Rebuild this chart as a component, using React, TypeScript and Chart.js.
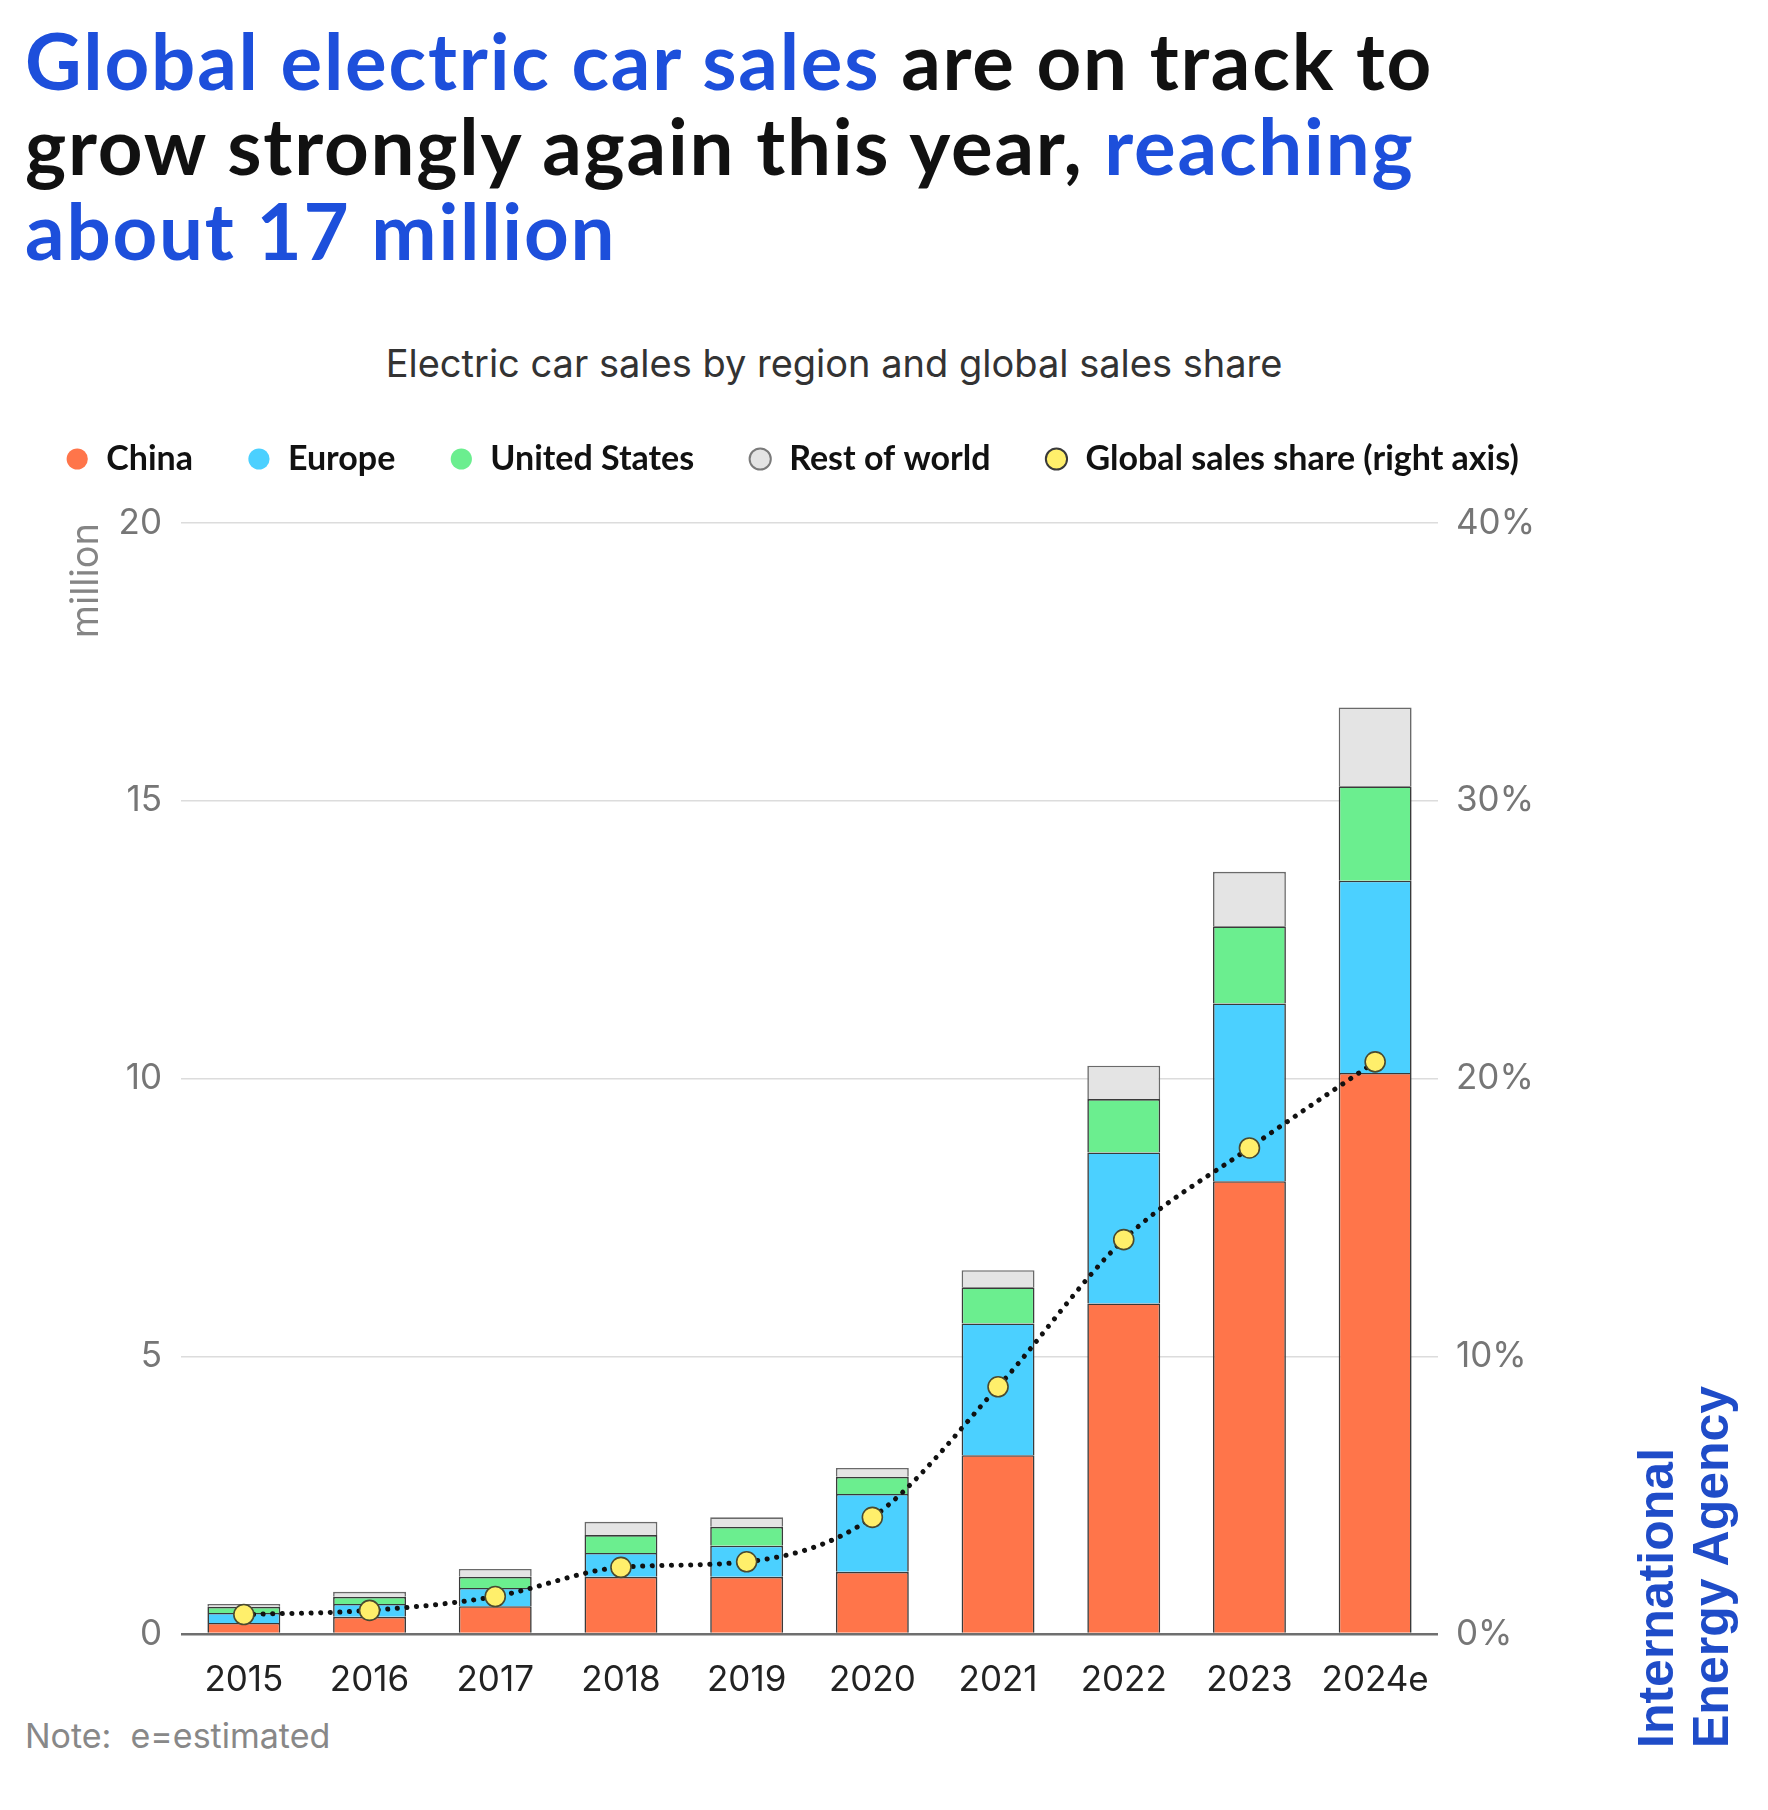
import React, { useEffect, useRef } from 'react';
import { Chart, registerables } from 'chart.js';

Chart.register(...registerables);

// ---------- data ----------
const YEARS = ['2015', '2016', '2017', '2018', '2019', '2020', '2021', '2022', '2023', '2024e'];
const CHINA = [0.2, 0.31, 0.5, 1.03, 1.03, 1.12, 3.22, 5.95, 8.15, 10.1];
const EUROPE = [0.18, 0.23, 0.33, 0.43, 0.56, 1.4, 2.37, 2.72, 3.2, 3.46];
const UNITED_STATES = [0.11, 0.13, 0.2, 0.32, 0.34, 0.31, 0.65, 0.96, 1.39, 1.7];
const REST_OF_WORLD = [0.05, 0.09, 0.14, 0.24, 0.17, 0.16, 0.31, 0.6, 0.98, 1.42];
const GLOBAL_SHARE = [0.7, 0.85, 1.35, 2.4, 2.6, 4.2, 8.9, 14.2, 17.5, 20.6];

const LEFT_TICKS = [0, 5, 10, 15, 20];
const RIGHT_TICKS = [0, 10, 20, 30, 40];

const SERIES_LABELS = ['China', 'Europe', 'United States', 'Rest of world', 'Global sales share (right axis)'];

// ---------- style ----------
const BLUE = '#1D4FDB';
const C_CHINA = '#FF754A';
const C_EUROPE = '#4BD0FF';
const C_US = '#6BEE8F';
const C_REST = '#E4E4E4';
const C_SHARE = '#FFEF6B';
const BAR_BORDER = '#3a3a3a';
const REG_FONT = 'Inter';

const CANVAS_TOP = 388;
const CANVAS_W = 1584;
const CANVAS_H = 1322;
const LEFT_AXIS_W = 181;
const RIGHT_AXIS_W = CANVAS_W - 1438;
const X_AXIS_H = 76;
const LEGEND_EXTRA = 37;

export default function App() {
  const ref = useRef<HTMLCanvasElement>(null);

  useEffect(() => {
    if (!ref.current) return;
    const legendSpacer = {
      id: 'legendSpacer',
      beforeInit(chart: any) {
        const lg = chart.legend;
        if (lg && !lg.__patched) {
          const orig = lg.fit;
          lg.fit = function () {
            orig.call(this);
            this.height += LEGEND_EXTRA;
          };
          lg.__patched = true;
        }
      },
    };

    const barBase = {
      type: 'bar' as const,
      stack: 'sales',
      yAxisID: 'y',
      borderColor: BAR_BORDER,
      borderWidth: 1.6,
      barPercentage: 0.58,
      categoryPercentage: 1,
      order: 1,
    };

    const legendFills = [C_CHINA, C_EUROPE, C_US, C_REST, C_SHARE];
    const legendStrokes = [C_CHINA, C_EUROPE, C_US, '#7a7a7a', '#3a3a3a'];
    const legendWidths = [0, 0, 0, 2, 2];

    const chart = new Chart(ref.current, {
      type: 'bar',
      data: {
        labels: YEARS,
        datasets: [
          { ...barBase, label: SERIES_LABELS[0], data: CHINA, backgroundColor: C_CHINA },
          { ...barBase, label: SERIES_LABELS[1], data: EUROPE, backgroundColor: C_EUROPE },
          { ...barBase, label: SERIES_LABELS[2], data: UNITED_STATES, backgroundColor: C_US },
          { ...barBase, label: SERIES_LABELS[3], data: REST_OF_WORLD, backgroundColor: C_REST, borderColor: '#6a6a6a' },
          {
            type: 'line' as const,
            label: SERIES_LABELS[4],
            data: GLOBAL_SHARE,
            yAxisID: 'y1',
            order: 0,
            borderColor: '#111111',
            borderWidth: 5,
            borderDash: [0.1, 9.5],
            borderCapStyle: 'round',
            cubicInterpolationMode: 'monotone',
            pointRadius: 10,
            pointHoverRadius: 10,
            pointBackgroundColor: C_SHARE,
            pointBorderColor: '#4a4a30',
            pointBorderWidth: 1.6,
            fill: false,
          } as any,
        ],
      },
      options: {
        responsive: false,
        animation: false,
        layout: { padding: 0 },
        plugins: {
          tooltip: { enabled: false },
          title: { display: false },
          legend: {
            display: true,
            position: 'top',
            align: 'center',
            labels: {
              usePointStyle: true,
              pointStyle: 'circle',
              boxHeight: 15,
              boxWidth: 24,
              padding: 54,
              color: '#111',
              font: { family: 'Lato', size: 34, weight: 'bold' },
              sort: (a: any, b: any) => a.datasetIndex - b.datasetIndex,
              generateLabels: (ch: any) => {
                const items = Chart.defaults.plugins.legend.labels.generateLabels(ch);
                return items.map((it: any) => ({
                  ...it,
                  pointStyle: 'circle',
                  fillStyle: legendFills[it.datasetIndex],
                  strokeStyle: legendStrokes[it.datasetIndex],
                  lineWidth: legendWidths[it.datasetIndex],
                  lineDash: [],
                }));
              },
            },
          },
        },
        scales: {
          x: {
            stacked: true,
            grid: { display: false },
            border: { display: false },
            ticks: {
              color: '#222',
              padding: 17,
              font: { family: REG_FONT, size: 35 },
              maxRotation: 0,
            },
            afterFit: (s: any) => {
              s.height = X_AXIS_H;
            },
          },
          y: {
            stacked: true,
            position: 'left',
            min: 0,
            max: 20,
            afterBuildTicks: (s: any) => {
              s.ticks = LEFT_TICKS.map((v) => ({ value: v }));
            },
            grid: {
              drawTicks: false,
              color: (c: any) => (c.tick && c.tick.value === 0 ? '#6f6f6f' : '#dcdcdc'),
              lineWidth: (c: any) => (c.tick && c.tick.value === 0 ? 2.5 : 1.5),
            },
            border: { display: false },
            ticks: {
              color: '#767676',
              padding: 19,
              font: { family: REG_FONT, size: 35 },
            },
            title: {
              display: true,
              text: 'million',
              align: 'end',
              color: '#858585',
              font: { family: REG_FONT, size: 38 },
              padding: { top: 64, bottom: 0 },
            },
            afterFit: (s: any) => {
              s.width = LEFT_AXIS_W;
            },
          },
          y1: {
            position: 'right',
            min: 0,
            max: 40,
            afterBuildTicks: (s: any) => {
              s.ticks = RIGHT_TICKS.map((v) => ({ value: v }));
            },
            grid: { display: false, drawTicks: false },
            border: { display: false },
            ticks: {
              color: '#767676',
              padding: 18,
              font: { family: REG_FONT, size: 35 },
              callback: (v: any) => `${v}%`,
            },
            afterFit: (s: any) => {
              s.width = RIGHT_AXIS_W;
            },
          },
        },
      } as any,
      plugins: [legendSpacer as any],
    });

    return () => chart.destroy();
  }, []);

  return (
    <div
      style={{
        position: 'absolute',
        left: 0,
        top: 0,
        width: 1768,
        height: 1810,
        background: '#ffffff',
        overflow: 'hidden',
      }}
    >
      <div
        style={{
          position: 'absolute',
          left: 25,
          top: 18,
          whiteSpace: 'nowrap',
          fontFamily: 'Lato',
          fontWeight: 700,
          fontSize: 78,
          lineHeight: '85px',
          color: '#111',
          letterSpacing: '1.8px',
        }}
      >
        <span style={{ color: BLUE }}>Global electric car sales</span> are on track to
        <br />
        grow strongly again this year, <span style={{ color: BLUE }}>reaching</span>
        <br />
        <span style={{ color: BLUE }}>about 17 million</span>
      </div>

      <div
        style={{
          position: 'absolute',
          left: 0,
          width: 1668,
          top: 343,
          textAlign: 'center',
          fontFamily: REG_FONT,
          fontSize: 38,
          lineHeight: '40px',
          color: '#333',
          whiteSpace: 'nowrap',
        }}
      >
        Electric car sales by region and global sales share
      </div>

      <canvas
        ref={ref}
        width={CANVAS_W}
        height={CANVAS_H}
        style={{ position: 'absolute', left: 0, top: CANVAS_TOP, width: CANVAS_W, height: CANVAS_H }}
      />

      <div
        style={{
          position: 'absolute',
          left: 25,
          top: 1717,
          fontFamily: REG_FONT,
          fontSize: 34,
          lineHeight: '38px',
          color: '#888',
          whiteSpace: 'pre',
        }}
      >
        {'Note:  e=estimated'}
      </div>

      <div
        style={{
          position: 'absolute',
          left: 1629,
          top: 1748,
          transformOrigin: '0 0',
          transform: 'rotate(-90deg)',
          fontFamily: '"Liberation Sans", Arial, sans-serif',
          fontWeight: 700,
          fontSize: 50,
          lineHeight: '55px',
          color: '#1F4CC8',
          whiteSpace: 'nowrap',
        }}
      >
        International
        <br />
        Energy Agency
      </div>
    </div>
  );
}
